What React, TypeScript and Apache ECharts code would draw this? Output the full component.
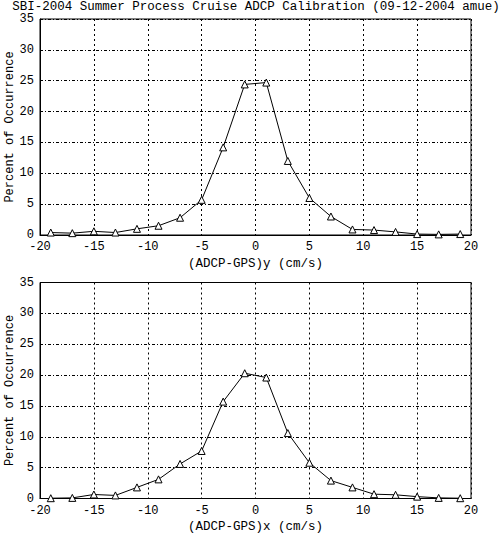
import React, { useEffect, useRef } from "react";
import * as echarts from "echarts";

const TITLE = "SBI-2004 Summer Process Cruise ADCP Calibration (09-12-2004 amue)";
const Y_NAME = "Percent of Occurrence";
const X_NAME_TOP = "(ADCP-GPS)y (cm/s)";
const X_NAME_BOTTOM = "(ADCP-GPS)x (cm/s)";

const binCenters = [-19, -17, -15, -13, -11, -9, -7, -5, -3, -1, 1, 3, 5, 7, 9, 11, 13, 15, 17, 19];
const percentY = [0.4, 0.3, 0.6, 0.4, 1.0, 1.5, 2.8, 5.7, 14.2, 24.4, 24.7, 12.0, 6.0, 3.0, 0.9, 0.8, 0.5, 0.15, 0.1, 0.15];
const percentX = [0.05, 0.1, 0.65, 0.5, 1.8, 3.1, 5.6, 7.7, 15.7, 20.3, 19.6, 10.6, 5.8, 2.9, 1.8, 0.7, 0.6, 0.3, 0.1, 0.05];

const FONT = "Liberation Mono";

export default function App() {
  const ref = useRef<HTMLDivElement>(null);
  useEffect(() => {
    if (!ref.current) return;
    const chart = echarts.init(ref.current, undefined, { renderer: "svg" });
    const xAxisBase = (gridIndex: number, name: string) => ({
      type: "value",
      gridIndex,
      min: -20,
      max: 20,
      interval: 5,
      name,
      nameLocation: "middle",
      nameGap: 22,
      nameMoveOverlap: false,
      nameTextStyle: { fontFamily: FONT, fontSize: 12.5, color: "#000" },
      axisLine: { show: true, onZero: false, lineStyle: { color: "#000", width: 1 } },
      axisTick: { show: false },
      axisLabel: { fontFamily: FONT, fontSize: 12, lineHeight: 12, color: "#000", margin: 6 },
      splitLine: { show: true, lineStyle: { color: "#000", width: 1, type: [2, 3] } },
    });
    const yAxisBase = (gridIndex: number) => ({
      type: "value",
      gridIndex,
      min: 0,
      max: 35,
      interval: 5,
      name: Y_NAME,
      nameLocation: "middle",
      nameGap: 24,
      nameMoveOverlap: false,
      nameTextStyle: { fontFamily: FONT, fontSize: 12, lineHeight: 12, color: "#000" },
      axisLine: { show: true, onZero: false, lineStyle: { color: "#000", width: 1 } },
      axisTick: { show: false },
      axisLabel: { fontFamily: FONT, fontSize: 12, lineHeight: 12, color: "#000", margin: 6 },
      splitLine: { show: true, lineStyle: { color: "#000", width: 1, type: [3, 2, 1, 2] } },
    });
    const seriesBase = (idx: number, vals: number[]) => ({
      type: "line",
      xAxisIndex: idx,
      yAxisIndex: idx,
      data: binCenters.map((x, i) => [x, vals[i]]),
      symbol: "triangle",
      symbolSize: 7,
      showAllSymbol: true,
      lineStyle: { color: "#000", width: 1 },
      itemStyle: { color: "#fff", borderColor: "#000", borderWidth: 1 },
      z: 5,
    });
    const gridBase = {
      left: 40,
      width: 431,
      height: 216,
      show: true,
      borderColor: "#000",
      borderWidth: 1,
      backgroundColor: "transparent",
      containLabel: false,
      outerBoundsMode: "none",
    };
    chart.setOption({
      animation: false,
      backgroundColor: "#fff",
      graphic: [
        {
          type: "text",
          x: 256,
          y: 6.5,
          style: {
            text: TITLE,
            fontFamily: FONT,
            fontSize: 12.5,
            lineHeight: 12,
            fill: "#000",
            align: "center",
            verticalAlign: "middle",
          },
        },
      ],
      grid: [
        { ...gridBase, top: 19 },
        { ...gridBase, top: 282.5 },
      ],
      xAxis: [xAxisBase(0, X_NAME_TOP), xAxisBase(1, X_NAME_BOTTOM)],
      yAxis: [yAxisBase(0), yAxisBase(1)],
      series: [seriesBase(0, percentY), seriesBase(1, percentX)],
    });
    return () => chart.dispose();
  }, []);
  return (
    <div
      ref={ref}
      style={{ position: "fixed", left: 0, top: 0, width: 504, height: 536, background: "#fff" }}
    />
  );
}
